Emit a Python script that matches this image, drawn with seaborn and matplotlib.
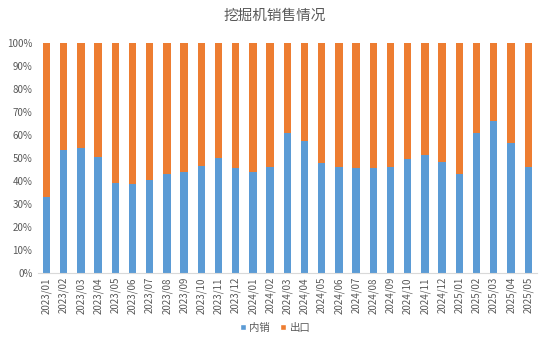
import matplotlib
matplotlib.use("Agg")
import matplotlib.pyplot as plt
import seaborn as sns
import pandas as pd
from matplotlib.ticker import FuncFormatter
from matplotlib.patches import Patch

months = ["2023/01", "2023/02", "2023/03", "2023/04", "2023/05", "2023/06", "2023/07",
          "2023/08", "2023/09", "2023/10", "2023/11", "2023/12", "2024/01", "2024/02",
          "2024/03", "2024/04", "2024/05", "2024/06", "2024/07", "2024/08", "2024/09",
          "2024/10", "2024/11", "2024/12", "2025/01", "2025/02", "2025/03", "2025/04",
          "2025/05"]
domestic = [32.9, 53.5, 54.4, 50.5, 39.2, 38.6, 40.4, 43.1, 43.9, 46.6, 50.1, 45.7,
            43.9, 46.3, 60.7, 57.3, 47.8, 46.0, 45.7, 45.7, 46.3, 49.4, 51.2, 48.2,
            43.1, 60.7, 66.0, 56.6, 46.0]
export = [round(100 - d, 1) for d in domestic]

df = pd.DataFrame({"month": months, "domestic": domestic, "export": export})
df["total"] = df["domestic"] + df["export"]

sns.set_theme(style="white")
plt.rcParams["font.family"] = ["Noto Sans CJK SC", "DejaVu Sans"]

blue = "#5B9BD5"
orange = "#ED7D31"
gray = "#595959"

fig = plt.figure(figsize=(5.5, 3.45), dpi=100)
ax = fig.add_axes([0.069, 0.209, 0.907, 0.666])

sns.barplot(data=df, x="month", y="total", color=orange, width=0.43,
            saturation=1, ax=ax, linewidth=0)
sns.barplot(data=df, x="month", y="domestic", color=blue, width=0.43,
            saturation=1, ax=ax, linewidth=0)

ax.set_xlim(-0.5, len(months) - 0.5)
ax.set_ylim(0, 100)
ax.set_yticks(range(0, 101, 10))
ax.yaxis.set_major_formatter(FuncFormatter(lambda v, p: f"{int(v)}%"))
ax.set_xlabel("")
ax.set_ylabel("")
ax.tick_params(axis="y", labelsize=7, colors=gray, length=0, pad=4)
ax.tick_params(axis="x", labelsize=7, colors=gray, length=0, pad=3)
plt.setp(ax.get_xticklabels(), rotation=90)

for s in ["top", "right", "left"]:
    ax.spines[s].set_visible(False)
ax.spines["bottom"].set_color("#D9D9D9")
ax.spines["bottom"].set_linewidth(0.8)

# minor ticks between categories
ax.set_xticks([i + 0.5 for i in range(-1, len(months))], minor=True)
ax.tick_params(axis="x", which="minor", length=4, color="#D9D9D9", width=0.8)

fig.suptitle("挖掘机销售情况", x=0.5, y=0.975, fontsize=10.5, color=gray)

handles = [Patch(facecolor=blue, label="内销"), Patch(facecolor=orange, label="出口")]
fig.legend(handles=handles, loc="center", bbox_to_anchor=(0.5, 0.05), ncol=2,
           frameon=False, fontsize=7.5, handlelength=0.6, handleheight=0.6,
           handletextpad=0.3, columnspacing=1.0, labelcolor=gray)

fig.savefig("out.png", dpi=100)
